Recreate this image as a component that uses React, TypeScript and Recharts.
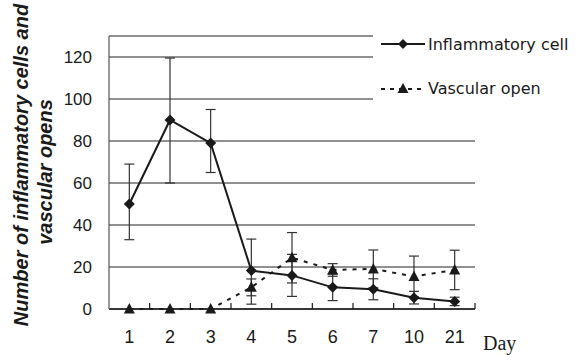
import React from "react";
import { LineChart, Line, XAxis, YAxis, CartesianGrid, ErrorBar, Legend, ReferenceLine } from "recharts";

document.body.style.margin = "0";

// Days after treatment (category axis)
const days = ["1", "2", "3", "4", "5", "6", "7", "10", "21"];

// Inflammatory cells: mean and [below, above] error
const inflammatory = [50, 90, 79, 18.3, 16, 10.3, 9.4, 5.4, 3.6];
const inflammatoryErr = [[17, 19], [30, 29.5], [14, 16], [16, 15], [10, 10], [6.3, 6.3], [5, 5], [3, 3], [2, 2]];

// Vascular opens: mean and error
const vascular = [0, 0, 0, 10.3, 24.4, 18.6, 19.1, 15.5, 18.6];
const vascularErr = [0, 0, 0, 4, 12, 3, 9, 9.7, 9.4];

const yTicks = [0, 20, 40, 60, 80, 100, 120];

const data = days.map((day, i) => ({
  pos: i + 0.5,
  day,
  inflammatory: inflammatory[i],
  inflErr: inflammatoryErr[i],
  vascular: vascular[i],
  vascErr: vascularErr[i],
}));
const xTicks = data.map(d => d.pos);
const bandEdges = days.map((_, i) => i + 1);

const INK = "#1a1a1a";

const renderDiamond = (props: any) => {
  const { cx, cy, index } = props;
  if (cx == null || cy == null) return <g key={`dm-${index}`} />;
  return (
    <polygon
      key={`dm-${index}`}
      points={`${cx},${cy - 5.5} ${cx + 5.5},${cy} ${cx},${cy + 5.5} ${cx - 5.5},${cy}`}
      fill={INK}
    />
  );
};

const renderTriangle = (props: any) => {
  const { cx, cy, index } = props;
  if (cx == null || cy == null) return <g key={`tr-${index}`} />;
  return (
    <polygon
      key={`tr-${index}`}
      points={`${cx},${cy - 6} ${cx + 5.5},${cy + 4.5} ${cx - 5.5},${cy + 4.5}`}
      fill={INK}
    />
  );
};

const legendItems = [
  { name: "Inflammatory cell", dashed: false },
  { name: "Vascular open", dashed: true },
];

const renderLegend = () => (
  <div style={{ background: "#fff", height: 100, paddingLeft: 8 }}>
    {legendItems.map(item => (
      <div key={item.name} style={{ display: "flex", alignItems: "center", height: 44 }}>
        <svg width={44} height={14} style={{ display: "block" }}>
          {item.dashed ? (
            <>
              <line x1={0} y1={8} x2={44} y2={8} stroke={INK} strokeWidth={2} strokeDasharray="4 5" />
              <polygon points="22,2 27.5,12 16.5,12" fill={INK} />
            </>
          ) : (
            <>
              <line x1={0} y1={7} x2={44} y2={7} stroke={INK} strokeWidth={2} />
              <polygon points="22,2 27,7 22,12 17,7" fill={INK} />
            </>
          )}
        </svg>
        <span style={{ marginLeft: 3, fontFamily: "DejaVu Sans", fontSize: 16, color: INK, whiteSpace: "nowrap" }}>
          {item.name}
        </span>
      </div>
    ))}
  </div>
);

const YLabel = () => (
  <g fontFamily="Liberation Sans, Arial" fontWeight="bold" fontStyle="italic" fontSize={20} fill={INK}>
    <text transform="translate(28,165) rotate(-90)" textAnchor="middle">
      Number of inflammatory cells and
    </text>
    <text transform="translate(52,172) rotate(-90)" textAnchor="middle">
      vascular opens
    </text>
  </g>
);

const DayLabel = (props: any) => {
  const vb = props.viewBox || { x: 109, y: 309, width: 366 };
  return (
    <text x={vb.x + vb.width + 8} y={vb.y + 41} fontFamily="Liberation Serif" fontSize={20} fill={INK}>
      Day
    </text>
  );
};

export default function App() {
  return (
    <div style={{ width: 576, height: 355, background: "#fff" }}>
      <LineChart width={576} height={355} data={data} margin={{ top: 36, right: 101, bottom: 16, left: 49 }}>
        <CartesianGrid vertical={false} stroke="#222" strokeWidth={1} />
        <XAxis
          type="number"
          dataKey="pos"
          domain={[0, days.length]}
          ticks={xTicks}
          interval={0}
          tickFormatter={(v: number) => days[Math.floor(v)]}
          tickLine={false}
          tickMargin={15}
          height={30}
          axisLine={{ stroke: INK, strokeWidth: 1.5 }}
          tick={{ fill: INK, fontSize: 18, fontFamily: "Liberation Sans" }}
          label={{ content: DayLabel }}
        />
        <YAxis
          domain={[0, 130]}
          ticks={yTicks}
          interval={0}
          width={60}
          tickLine={false}
          tickMargin={11}
          axisLine={{ stroke: "#555", strokeWidth: 1.2 }}
          tick={{ fill: INK, fontSize: 17, fontFamily: "Liberation Sans" }}
          label={{ content: YLabel }}
        />
        {bandEdges.map(e => (
          <ReferenceLine
            key={`edge-${e}`}
            segment={[{ x: e, y: 0 }, { x: e, y: 2.9 }]}
            stroke={INK}
            strokeWidth={1.2}
          />
        ))}
        <Line
          dataKey="vascular"
          stroke={INK}
          strokeWidth={2}
          strokeDasharray="4 6"
          dot={renderTriangle}
          activeDot={false}
          isAnimationActive={false}
        >
          <ErrorBar dataKey="vascErr" direction="y" width={5} stroke="#333" strokeWidth={1.2} isAnimationActive={false} />
        </Line>
        <Line
          dataKey="inflammatory"
          stroke={INK}
          strokeWidth={2}
          dot={renderDiamond}
          activeDot={false}
          isAnimationActive={false}
        >
          <ErrorBar dataKey="inflErr" direction="y" width={5} stroke="#333" strokeWidth={1.2} isAnimationActive={false} />
        </Line>
        <Legend
          layout="vertical"
          align="center"
          verticalAlign="middle"
          content={renderLegend}
          wrapperStyle={{ left: 373, top: 22, width: 203 }}
        />
      </LineChart>
    </div>
  );
}
